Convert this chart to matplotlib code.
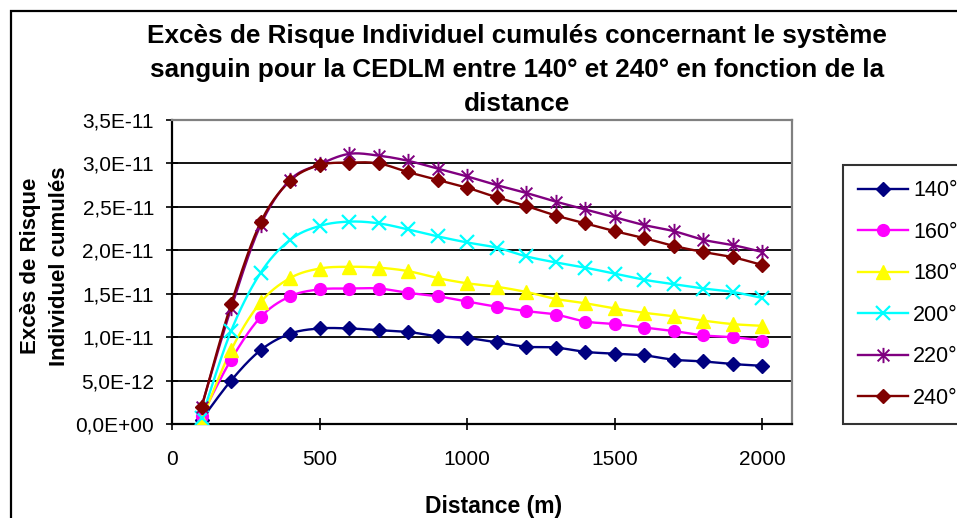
import numpy as np
import matplotlib
matplotlib.use("Agg")
import matplotlib.pyplot as plt
from matplotlib.path import Path
from matplotlib.patches import Rectangle
from matplotlib.ticker import FuncFormatter, MultipleLocator

plt.rcParams['font.family'] = ['Liberation Sans', 'DejaVu Sans']

# Distance from the source (m)
distance = [100, 200, 300, 400, 500, 600, 700, 800, 900, 1000,
            1100, 1200, 1300, 1400, 1500, 1600, 1700, 1800, 1900, 2000]

# Cumulated individual excess risk, in units of 1e-11
erI_140 = [0.05, 0.50, 0.85, 1.04, 1.10, 1.10, 1.08, 1.06, 1.01, 0.99,
           0.94, 0.89, 0.88, 0.83, 0.81, 0.79, 0.74, 0.72, 0.69, 0.67]
erI_160 = [0.09, 0.74, 1.23, 1.47, 1.55, 1.56, 1.56, 1.51, 1.47, 1.41,
           1.35, 1.30, 1.26, 1.18, 1.15, 1.11, 1.07, 1.02, 1.00, 0.96]
erI_180 = [0.04, 0.85, 1.40, 1.68, 1.79, 1.81, 1.80, 1.76, 1.68, 1.62,
           1.58, 1.52, 1.44, 1.39, 1.33, 1.28, 1.24, 1.19, 1.15, 1.13]
erI_200 = [0.07, 1.07, 1.74, 2.12, 2.28, 2.33, 2.31, 2.24, 2.16, 2.09,
           2.03, 1.93, 1.86, 1.80, 1.73, 1.66, 1.61, 1.56, 1.52, 1.45]
erI_220 = [0.20, 1.33, 2.29, 2.81, 2.99, 3.11, 3.09, 3.03, 2.94, 2.85,
           2.75, 2.66, 2.56, 2.47, 2.38, 2.29, 2.22, 2.12, 2.06, 1.98]
erI_240 = [0.19, 1.38, 2.32, 2.80, 2.98, 3.01, 3.00, 2.90, 2.81, 2.72,
           2.61, 2.51, 2.40, 2.31, 2.22, 2.14, 2.05, 1.98, 1.92, 1.83]

labels = ["140°", "160°", "180°", "200°", "220°", "240°"]
series = [erI_140, erI_160, erI_180, erI_200, erI_220, erI_240]
SCALE = 1e-11

# asterisk marker: an X crossed by a vertical bar
asterisk = Path([(-1, -1), (1, 1), (-1, 1), (1, -1), (0, -1.3), (0, 1.3)],
                [Path.MOVETO, Path.LINETO, Path.MOVETO, Path.LINETO,
                 Path.MOVETO, Path.LINETO])

styles = [
    dict(color="#000080", marker="D", ms=7.5, mfc="#000080", mec="#000080"),
    dict(color="#FF00FF", marker="o", ms=8.5, mfc="#FF00FF", mec="#FF00FF"),
    dict(color="#FFFF00", marker="^", ms=10, mfc="#FFFF00", mec="#FFFF00"),
    dict(color="#00FFFF", marker="x", ms=9.5, mfc="none", mec="#00FFFF", mew=1.6),
    dict(color="#800080", marker=asterisk, ms=11, mfc="none", mec="#800080", mew=1.4),
    dict(color="#800000", marker="D", ms=7.5, mfc="#800000", mec="#800000"),
]


def smooth_curve(x, y, steps=24):
    """Bezier smoothing through every point (spreadsheet style)."""
    x = np.asarray(x, float)
    y = np.asarray(y, float)
    n = len(x)
    xs, ys = [x[0]], [y[0]]
    for i in range(n - 1):
        i0 = max(i - 1, 0)
        i3 = min(i + 2, n - 1)
        p0 = np.array([x[i0], y[i0]])
        p1 = np.array([x[i], y[i]])
        p2 = np.array([x[i + 1], y[i + 1]])
        p3 = np.array([x[i3], y[i3]])
        c1 = p1 + (p2 - p0) / 6.0
        c2 = p2 - (p3 - p1) / 6.0
        t = np.linspace(0, 1, steps + 1)[1:, None]
        pts = ((1 - t) ** 3) * p1 + 3 * ((1 - t) ** 2) * t * c1 \
            + 3 * (1 - t) * t ** 2 * c2 + t ** 3 * p2
        xs.extend(pts[:, 0])
        ys.extend(pts[:, 1])
    return np.array(xs), np.array(ys)


W, H = 957, 518
fig = plt.figure(figsize=(W / 100, H / 100), dpi=100)
fig.patch.set_facecolor("white")

# chart-area frame
fig.patches.append(Rectangle((11 / W, -0.1), 1.2, 1 - 11 / H + 0.1,
                             transform=fig.transFigure, fill=False,
                             edgecolor="black", linewidth=1.6, zorder=0))

ax = fig.add_axes([172 / W, 1 - 424 / H, (792 - 172) / W, (424 - 120) / H])

handles = []
for vals, lab, st in zip(series, labels, styles):
    yv = np.array(vals) * SCALE
    sx, sy = smooth_curve(distance, yv)
    ax.plot(sx, sy, color=st["color"], lw=1.7, zorder=3, solid_capstyle="round")
    ax.plot(distance, yv, ls="none", marker=st["marker"], ms=st["ms"],
            mfc=st["mfc"], mec=st["mec"], mew=st.get("mew", 1.0), zorder=4)
    h, = ax.plot([], [], color=st["color"], lw=1.7, marker=st["marker"],
                 ms=st["ms"], mfc=st["mfc"], mec=st["mec"],
                 mew=st.get("mew", 1.0), label=lab)
    handles.append(h)

ax.set_xlim(0, 2100)
ax.set_ylim(0, 3.5e-11)
ax.xaxis.set_major_locator(MultipleLocator(500))
ax.yaxis.set_major_locator(MultipleLocator(5e-12))
ax.yaxis.set_major_formatter(
    FuncFormatter(lambda v, p: f"{v:.1E}".replace(".", ",")))
ax.set_xticks([0, 500, 1000, 1500, 2000])

ax.grid(axis="y", color="black", lw=1.3, zorder=1)
ax.set_axisbelow(True)
ax.tick_params(direction="inout", length=8, width=1.2, labelsize=15,
               colors="black")
ax.tick_params(axis="y", pad=9)
ax.tick_params(axis="x", pad=15)
for side in ("left", "bottom"):
    ax.spines[side].set_color("black")
    ax.spines[side].set_linewidth(1.6)
for side in ("top", "right"):
    ax.spines[side].set_color("#808080")
    ax.spines[side].set_linewidth(1.6)

fig.text(517 / W, 1 - 70 / H,
         "Excès de Risque Individuel cumulés concernant le système\n"
         "sanguin pour la CEDLM entre 140° et 240° en fonction de la\n"
         "distance",
         ha="center", va="center", fontsize=18.8, fontweight="bold",
         linespacing=1.55)
fig.text(45 / W, 1 - 266 / H, "Excès de Risque\nIndividuel cumulés",
         rotation=90, ha="center", va="center", fontsize=16,
         fontweight="bold", multialignment="center", linespacing=1.45)
fig.text(494 / W, 1 - 507 / H, "Distance (m)", ha="center", va="center",
         fontsize=16.5, fontweight="bold")

leg = fig.legend(handles=handles, loc="upper left",
                 bbox_to_anchor=(843 / W, 1 - 165 / H),
                 frameon=True, fancybox=False, fontsize=15.5,
                 handlelength=2.3, handletextpad=0.25, labelspacing=0.955,
                 borderpad=0.7, borderaxespad=0.0)
leg.get_frame().set_edgecolor("black")
leg.get_frame().set_linewidth(1.5)

fig.savefig("out.png", dpi=100)
